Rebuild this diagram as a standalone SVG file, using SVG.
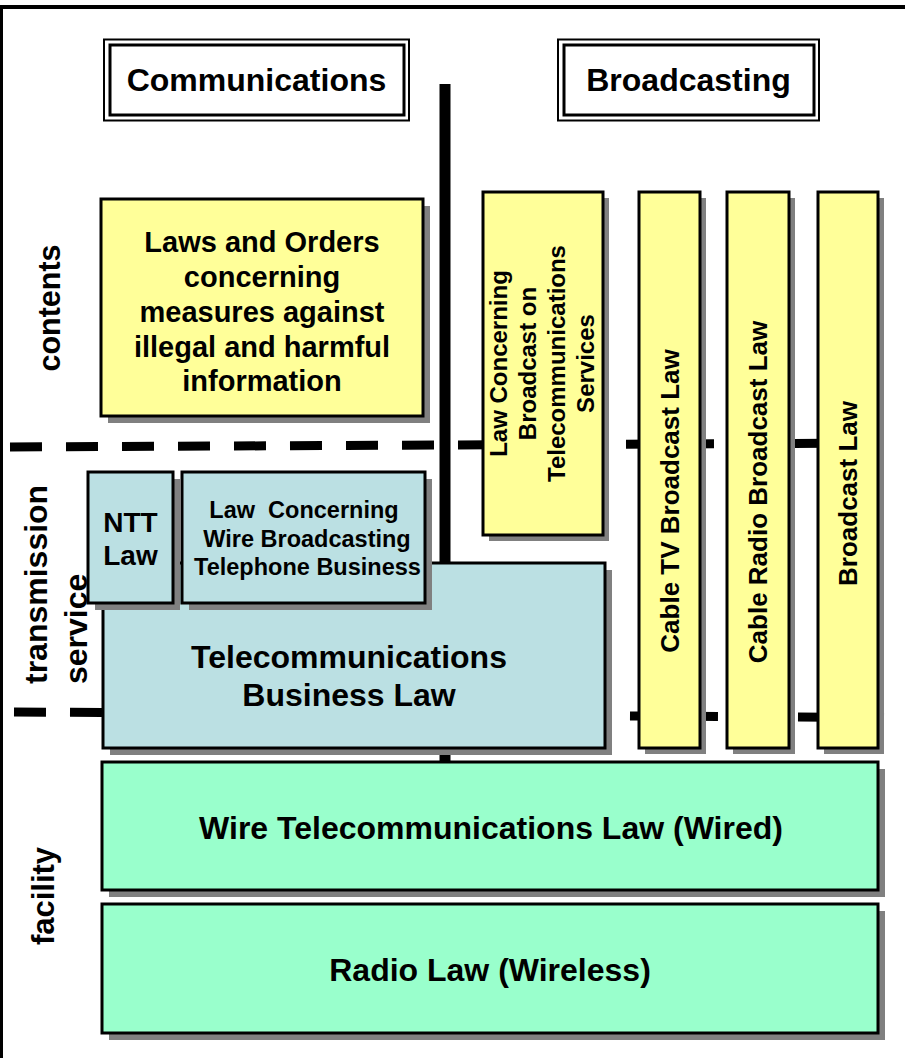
<svg xmlns="http://www.w3.org/2000/svg" width="905" height="1058" viewBox="0 0 905 1058">
<style>
text{font-family:"Liberation Sans",Arial,sans-serif;font-weight:bold;fill:#000}
.box{stroke:#000;stroke-width:3}
.sh{fill:#808080}
.y{fill:#FFFF99}
.b{fill:#BBE0E3}
.g{fill:#99FFCC}
.dash{stroke:#000;stroke-width:9;stroke-dasharray:32 24;fill:none}
</style>
<rect width="905" height="1058" fill="#fff"/>
<g id="frame">
<line x1="0" y1="7" x2="905" y2="7" stroke="#000" stroke-width="4"/>
<line x1="1.5" y1="5" x2="1.5" y2="1058" stroke="#000" stroke-width="3"/>
</g>
<g id="connectors">
<line x1="445" y1="84" x2="445" y2="763" stroke="#000" stroke-width="11"/>
<line class="dash" x1="10" y1="447" x2="884" y2="443"/>
<line class="dash" x1="14" y1="712" x2="884" y2="717.5"/>
</g>
<g id="hdr-comm">
<rect x="104" y="39.5" width="305" height="81" fill="#fff" stroke="#000" stroke-width="2"/>
<rect x="110" y="45" width="294" height="70" fill="none" stroke="#000" stroke-width="3"/>
<text x="256.5" y="91" font-size="32" text-anchor="middle">Communications</text>
</g>
<g id="hdr-broad">
<rect x="558" y="39.5" width="261" height="81" fill="#fff" stroke="#000" stroke-width="2"/>
<rect x="564" y="45" width="250" height="70" fill="none" stroke="#000" stroke-width="3"/>
<text x="688.5" y="91" font-size="32" text-anchor="middle">Broadcasting</text>
</g>
<g id="lbl-contents"><text transform="translate(60,308) rotate(-90)" font-size="30.5" text-anchor="middle">contents</text></g>
<g id="lbl-transmission"><text transform="translate(47,684) rotate(-90)" font-size="32">transmission</text><text transform="translate(87,684) rotate(-90)" font-size="32">service</text></g>
<g id="lbl-facility"><text transform="translate(54,896) rotate(-90)" font-size="31" text-anchor="middle">facility</text></g>
<g id="contents-law">
<rect class="sh" x="108" y="206" width="322" height="217"/>
<rect class="box y" x="101" y="199" width="322" height="217"/>
<text font-size="29" text-anchor="middle"><tspan x="262" y="252">Laws and Orders</tspan><tspan x="262" y="287">concerning</tspan><tspan x="262" y="322">measures against</tspan><tspan x="262" y="357">illegal and harmful</tspan><tspan x="262" y="391">information</tspan></text>
</g>
<g id="broadcast-telecom">
<rect class="sh" x="489" y="198" width="120" height="343"/>
<rect class="box y" x="483" y="192" width="120" height="343"/>
<text font-size="24" text-anchor="middle" transform="translate(543,363.5) rotate(-90)"><tspan x="0" y="-36">Law Concerning</tspan><tspan x="0" y="-7">Broadcast on</tspan><tspan x="0" y="22">Telecommunications</tspan><tspan x="0" y="51">Services</tspan></text>
</g>
<g id="cable-tv">
<rect class="sh" x="645" y="198" width="61" height="556"/>
<rect class="box y" x="639" y="192" width="61" height="556"/>
<text transform="translate(679,501) rotate(-90)" font-size="26" text-anchor="middle">Cable TV Broadcast Law</text>
</g>
<g id="cable-radio">
<rect class="sh" x="733" y="198" width="62" height="556"/>
<rect class="box y" x="727" y="192" width="62" height="556"/>
<text transform="translate(767,492) rotate(-90)" font-size="26" text-anchor="middle">Cable Radio Broadcast Law</text>
</g>
<g id="broadcast-law">
<rect class="sh" x="824" y="198" width="60" height="556"/>
<rect class="box y" x="818" y="192" width="60" height="556"/>
<text transform="translate(857,493.5) rotate(-90)" font-size="26" text-anchor="middle">Broadcast Law</text>
</g>
<g id="telecom-business">
<rect class="sh" x="110" y="570" width="502" height="185"/>
<rect class="box b" x="103" y="563" width="502" height="185"/>
<text font-size="32" text-anchor="middle"><tspan x="349" y="668">Telecommunications</tspan><tspan x="349" y="706">Business Law</tspan></text>
</g>
<g id="ntt">
<rect class="sh" x="95" y="479" width="85" height="131"/>
<rect class="box b" x="88" y="472" width="85" height="131"/>
<text font-size="28" text-anchor="middle"><tspan x="130.5" y="532">NTT</tspan><tspan x="130.5" y="565">Law</tspan></text>
</g>
<g id="wire-broadcast">
<rect class="sh" x="189" y="479" width="243" height="131"/>
<rect class="box b" x="182" y="472" width="243" height="131"/>
<text font-size="23.5" text-anchor="middle" style="white-space:pre"><tspan x="304" y="518">Law  Concerning</tspan><tspan x="307" y="547">Wire Broadcasting</tspan><tspan x="307.5" y="575">Telephone Business</tspan></text>
</g>
<g id="wire-telecom">
<rect class="sh" x="109" y="769" width="776" height="128"/>
<rect class="box g" x="102" y="762" width="776" height="128"/>
<text x="491" y="839" font-size="32" text-anchor="middle">Wire Telecommunications Law (Wired)</text>
</g>
<g id="radio-law">
<rect class="sh" x="109" y="911" width="776" height="129"/>
<rect class="box g" x="102" y="904" width="776" height="129"/>
<text x="490" y="981" font-size="32" text-anchor="middle">Radio Law (Wireless)</text>
</g>
</svg>
